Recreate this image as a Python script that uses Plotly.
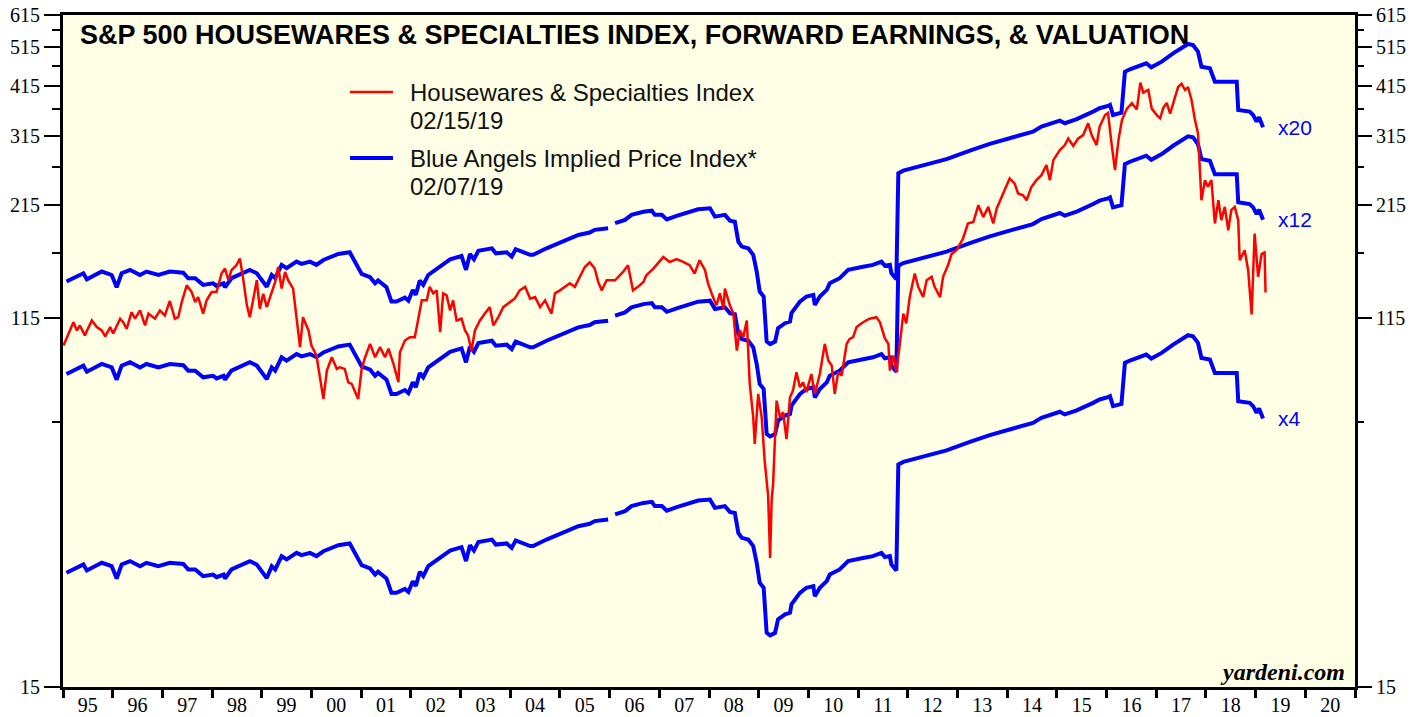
import math
import plotly.graph_objects as go

# ---------------- data ----------------
# Forward earnings (index points); Blue Angels lines = earnings x 20, x 12, x 4
fe_t = [1995.07, 1995.41, 1995.48, 1995.78, 1995.98, 1996.08, 1996.18, 1996.35, 1996.55, 1996.68,
        1996.92, 1997.15, 1997.42, 1997.52, 1997.66, 1997.82, 1998.02, 1998.09, 1998.23, 1998.26,
        1998.39, 1998.76, 1998.90, 1999.10, 1999.20, 1999.27, 1999.40, 1999.50, 1999.70, 1999.80,
        1999.97, 2000.10, 2000.24, 2000.54, 2000.77, 2000.91, 2001.01, 2001.18, 2001.28, 2001.34,
        2001.51, 2001.61, 2001.71, 2001.88, 2001.95, 2002.04, 2002.10, 2002.18, 2002.25, 2002.35,
        2002.59, 2002.79, 2003.02, 2003.11, 2003.19, 2003.27, 2003.36, 2003.63, 2003.71, 2003.93,
        2004.03, 2004.11, 2004.40, 2004.46, 2004.73, 2005.07, 2005.37, 2005.60, 2005.70, 2005.97,
        2006.04, 2006.11, 2006.31, 2006.44, 2006.68, 2006.85, 2006.91, 2007.05, 2007.15, 2007.35,
        2007.55, 2007.78, 2008.02, 2008.12, 2008.32, 2008.42, 2008.52, 2008.59, 2008.66, 2008.79,
        2008.89, 2008.96, 2009.02, 2009.10, 2009.16, 2009.23, 2009.33, 2009.39, 2009.53, 2009.63,
        2009.66, 2009.83, 2009.96, 2010.10, 2010.13, 2010.23, 2010.37, 2010.43, 2010.63, 2010.80,
        2011.10, 2011.30, 2011.47, 2011.54, 2011.64, 2011.67, 2011.77, 2011.81, 2011.91, 2012.38,
        2012.78, 2013.25, 2013.65, 2014.12, 2014.52, 2014.69, 2015.06, 2015.16, 2015.40, 2015.73,
        2015.86, 2016.03, 2016.07, 2016.13, 2016.30, 2016.37, 2016.47, 2016.80, 2016.90, 2017.11,
        2017.34, 2017.64, 2017.74, 2017.84, 2017.91, 2018.08, 2018.18, 2018.62, 2018.65, 2018.88,
        2018.95, 2019.02, 2019.07, 2019.15]
fe_v = [7.05, 7.38, 7.14, 7.45, 7.31, 6.83, 7.38, 7.52, 7.31, 7.45,
        7.31, 7.45, 7.40, 7.18, 7.18, 6.92, 6.98, 6.88, 6.98, 6.83,
        7.18, 7.52, 7.38, 6.85, 7.31, 7.18, 7.73, 7.59, 7.87, 7.77,
        7.87, 7.73, 7.94, 8.21, 8.29, 7.73, 7.35, 7.22, 6.98, 7.09,
        6.83, 6.31, 6.31, 6.45, 6.34, 6.73, 6.55, 7.09, 6.92, 7.31,
        7.69, 7.97, 8.12, 7.52, 8.21, 7.97, 8.36, 8.47, 8.24, 8.29,
        8.09, 8.43, 8.17, 8.17, 8.47, 8.79, 9.12, 9.24, 9.38, 9.46,
        None, 9.73, 9.91, 10.19, 10.37, 10.43, 10.19, 10.19, 9.94, 10.13,
        10.28, 10.51, 10.57, 10.09, 10.19, 9.87, 9.81, 8.79, 8.55, 8.47,
        8.17, 7.45, 6.67, 6.49, 5.06, 4.99, 5.06, 5.45, 5.60, 5.65,
        5.92, 6.31, 6.49, 6.55, 6.19, 6.49, 6.73, 6.98, 7.18, 7.52,
        7.65, 7.73, 7.87, 7.69, 7.73, 7.38, 7.14, 12.82, 13.01, 13.43,
        13.86, 14.53, 15.08, 15.65, 16.14, 16.60, 17.16, 16.91, 17.29, 18.03,
        18.37, 18.60, 18.71, 17.70, 17.92, 22.48, 22.78, 23.55, 23.03, 23.76,
        24.88, 26.20, 26.06, 25.11, 23.11, 22.90, 21.27, 21.27, 18.20, 18.03,
        17.70, 17.06, 17.48, 16.54]

multiples = [20, 12, 4]

# S&P 500 Housewares & Specialties price index
px_t = [1995.01, 1995.21, 1995.28, 1995.34, 1995.44, 1995.58, 1995.68, 1995.78, 1995.85, 1995.95,
        1996.01, 1996.15, 1996.21, 1996.28, 1996.38, 1996.45, 1996.55, 1996.65, 1996.72, 1996.85,
        1996.95, 1997.05, 1997.15, 1997.25, 1997.32, 1997.39, 1997.49, 1997.59, 1997.66, 1997.72,
        1997.82, 1997.89, 1997.99, 1998.09, 1998.19, 1998.26, 1998.33, 1998.39, 1998.49, 1998.56,
        1998.63, 1998.70, 1998.76, 1998.83, 1998.90, 1998.96, 1999.03, 1999.10, 1999.20, 1999.27,
        1999.33, 1999.40, 1999.47, 1999.53, 1999.63, 1999.70, 1999.77, 1999.83, 1999.94, 2000.00,
        2000.10, 2000.17, 2000.24, 2000.31, 2000.41, 2000.51, 2000.57, 2000.67, 2000.74, 2000.81,
        2000.87, 2000.94, 2001.01, 2001.08, 2001.18, 2001.28, 2001.38, 2001.48, 2001.55, 2001.65,
        2001.75, 2001.78, 2001.88, 2001.98, 2002.08, 2002.15, 2002.22, 2002.32, 2002.38, 2002.45,
        2002.52, 2002.59, 2002.65, 2002.72, 2002.79, 2002.85, 2002.92, 2003.02, 2003.09, 2003.15,
        2003.22, 2003.29, 2003.39, 2003.49, 2003.59, 2003.66, 2003.76, 2003.86, 2003.99, 2004.09,
        2004.19, 2004.30, 2004.40, 2004.50, 2004.60, 2004.70, 2004.83, 2004.90, 2005.00, 2005.10,
        2005.20, 2005.30, 2005.40, 2005.50, 2005.60, 2005.70, 2005.77, 2005.84, 2005.94, 2006.11,
        2006.27, 2006.37, 2006.47, 2006.57, 2006.68, 2006.74, 2006.88, 2007.08, 2007.21, 2007.35,
        2007.48, 2007.61, 2007.71, 2007.81, 2007.92, 2007.98, 2008.08, 2008.15, 2008.22, 2008.29,
        2008.32, 2008.42, 2008.49, 2008.56, 2008.62, 2008.69, 2008.76, 2008.82, 2008.89, 2008.92,
        2008.99, 2009.06, 2009.12, 2009.19, 2009.23, 2009.26, 2009.29, 2009.36, 2009.43, 2009.49,
        2009.56, 2009.63, 2009.69, 2009.76, 2009.83, 2009.89, 2009.96, 2010.06, 2010.13, 2010.23,
        2010.33, 2010.40, 2010.47, 2010.53, 2010.60, 2010.67, 2010.77, 2010.83, 2010.90, 2010.97,
        2011.10, 2011.23, 2011.37, 2011.44, 2011.47, 2011.54, 2011.61, 2011.64, 2011.71, 2011.77,
        2011.84, 2011.91, 2011.97, 2012.04, 2012.14, 2012.21, 2012.31, 2012.38, 2012.48, 2012.54,
        2012.65, 2012.71, 2012.81, 2012.88, 2012.98, 2013.11, 2013.21, 2013.32, 2013.42, 2013.52,
        2013.62, 2013.72, 2013.79, 2013.89, 2013.99, 2014.05, 2014.15, 2014.22, 2014.32, 2014.39,
        2014.49, 2014.59, 2014.69, 2014.79, 2014.86, 2014.93, 2015.06, 2015.16, 2015.23, 2015.33,
        2015.43, 2015.53, 2015.63, 2015.70, 2015.80, 2015.86, 2015.97, 2016.03, 2016.10, 2016.17,
        2016.24, 2016.31, 2016.41, 2016.51, 2016.61, 2016.68, 2016.74, 2016.84, 2016.91, 2017.01,
        2017.08, 2017.14, 2017.21, 2017.28, 2017.38, 2017.44, 2017.51, 2017.58, 2017.64, 2017.71,
        2017.78, 2017.84, 2017.91, 2017.98, 2018.04, 2018.11, 2018.18, 2018.25, 2018.31, 2018.38,
        2018.45, 2018.51, 2018.58, 2018.65, 2018.68, 2018.78, 2018.85, 2018.92, 2018.98, 2019.05,
        2019.12, 2019.18, 2019.20]
px_v = [99.0, 112.6, 107.6, 110.6, 104.7, 113.7, 109.6, 107.6, 104.1, 109.6,
        105.8, 114.8, 112.6, 108.6, 119.0, 114.8, 120.2, 110.6, 118.1, 114.8,
        120.2, 116.9, 126.6, 114.8, 115.8, 125.9, 138.1, 133.0, 125.9, 129.4,
        118.1, 127.1, 133.0, 133.0, 147.4, 151.5, 142.0, 150.1, 154.3, 160.1,
        142.0, 123.6, 115.8, 129.4, 142.0, 121.4, 131.8, 122.4, 133.0, 140.7,
        152.8, 135.6, 148.7, 142.0, 135.6, 115.8, 98.1, 115.8, 107.6, 99.0,
        93.7, 83.1, 73.7, 86.2, 92.8, 87.0, 87.8, 87.0, 80.8, 80.1,
        77.2, 73.7, 87.0, 92.8, 99.9, 92.8, 98.1, 92.8, 97.3, 89.4,
        80.8, 95.4, 101.8, 103.7, 103.7, 115.8, 127.1, 127.1, 136.9, 132.1,
        134.3, 106.6, 132.1, 130.6, 120.2, 127.1, 113.7, 114.8, 107.6, 104.7,
        96.3, 107.6, 113.7, 118.1, 122.4, 110.6, 115.8, 122.4, 125.9, 128.3,
        134.3, 136.9, 128.3, 129.4, 122.4, 127.1, 118.1, 132.1, 134.3, 136.9,
        139.6, 136.9, 144.8, 152.8, 156.8, 151.5, 140.7, 134.3, 142.0, 142.0,
        148.7, 154.3, 134.3, 136.9, 140.7, 146.0, 151.5, 161.4, 157.1, 159.6,
        157.1, 154.3, 147.4, 158.6, 150.1, 139.6, 129.4, 123.6, 132.1, 121.4,
        135.6, 123.6, 118.1, 96.3, 107.6, 103.7, 113.7, 80.1, 66.6, 57.5,
        75.8, 66.6, 52.4, 43.1, 30.6, 42.0, 46.1, 73.0, 66.6, 68.5,
        59.0, 74.4, 77.2, 85.4, 78.6, 80.8, 76.5, 84.6, 75.8, 84.6,
        99.9, 91.1, 88.6, 75.8, 85.4, 83.9, 99.9, 102.7, 103.7, 109.6,
        112.6, 114.8, 115.8, 112.6, 109.6, 103.0, 99.9, 86.2, 93.7, 85.4,
        99.9, 118.1, 111.9, 129.4, 147.4, 136.9, 129.4, 142.0, 144.7, 136.9,
        129.4, 144.7, 154.3, 164.1, 167.6, 178.6, 194.3, 195.9, 215.0, 201.4,
        213.0, 194.3, 211.1, 225.1, 237.9, 249.2, 242.4, 229.3, 227.2, 221.0,
        237.9, 246.9, 253.8, 268.3, 246.9, 275.8, 291.5, 299.7, 310.8, 298.1,
        310.8, 316.7, 338.0, 316.7, 299.7, 331.5, 353.8, 358.0, 302.4, 261.0,
        308.1, 344.1, 366.6, 377.7, 364.9, 423.4, 400.3, 406.3, 366.6, 353.8,
        347.5, 368.0, 378.3, 356.8, 391.4, 413.1, 420.7, 406.3, 413.1, 384.4,
        344.1, 320.1, 221.0, 246.9, 238.2, 246.9, 194.3, 221.0, 197.9, 213.0,
        187.2, 209.1, 213.0, 197.9, 158.6, 167.6, 150.1, 117.6, 183.8, 144.8,
        164.1, 165.5, 132.7]

year_labels = ["95", "96", "97", "98", "99", "00", "01", "02", "03", "04", "05", "06", "07",
               "08", "09", "10", "11", "12", "13", "14", "15", "16", "17", "18", "19", "20"]
y_major = [15, 115, 215, 315, 415, 515, 615]
y_minor = [65, 165, 265, 365, 465, 565]

# ---------------- figure ----------------
BLUE = "#0000FF"
RED = "#FF0000"
fig = go.Figure()

for m in multiples:
    fig.add_trace(go.Scatter(
        x=fe_t, y=[None if v is None else v * m for v in fe_v],
        mode="lines", line=dict(color=BLUE, width=4), connectgaps=False,
        hoverinfo="skip", yaxis="y"))

fig.add_trace(go.Scatter(x=px_t, y=px_v, mode="lines",
                         line=dict(color=RED, width=2.5), yaxis="y2", hoverinfo="skip"))

yrange = [math.log10(15), math.log10(615)]
serif = "Liberation Serif, Times New Roman, serif"
sans = "Liberation Sans, Arial, sans-serif"

axis_y_common = dict(
    type="log", range=yrange, tickmode="array", tickvals=y_major,
    ticktext=[str(v) for v in y_major], ticks="outside", ticklen=16, tickwidth=1.5,
    tickcolor="black", showgrid=False, zeroline=False, automargin=False,
    tickfont=dict(family=serif, size=20, color="black"),
    minor=dict(tickmode="array", tickvals=y_minor, ticks="outside", ticklen=8,
               tickwidth=1.5, tickcolor="black", showgrid=False),
)

fig.update_layout(
    width=1427, height=717,
    margin=dict(l=63, r=72, t=15, b=30, autoexpand=False),
    paper_bgcolor="white", plot_bgcolor="#FFFFE5",
    showlegend=False,
    xaxis=dict(
        range=[1995, 2021], tickmode="array",
        tickvals=[1995.5 + i for i in range(len(year_labels))], ticktext=year_labels,
        ticks="", showgrid=False, zeroline=False, automargin=False,
        showline=True, linewidth=3, linecolor="black", mirror=True,
        ticklabelstandoff=-2,
        tickfont=dict(family=serif, size=20, color="black"),
        minor=dict(tickmode="array", tickvals=list(range(1995, 2022)), ticks="outside",
                   ticklen=8, tickwidth=3, tickcolor="black", showgrid=False),
    ),
    yaxis=dict(**axis_y_common, side="left", showline=True, linewidth=3,
               linecolor="black", mirror=True),
    yaxis2=dict(**axis_y_common, side="right", overlaying="y", showline=False),
)

# title
fig.add_annotation(
    text="<b>S&P 500 HOUSEWARES & SPECIALTIES INDEX, FORWARD EARNINGS, & VALUATION</b>",
    xref="paper", yref="paper", x=0.0116, y=0.970, xanchor="left", yanchor="middle",
    showarrow=False, font=dict(family=sans, size=27, color="black"))

# legend
leg_font = dict(family=sans, size=24, color="#111111")
fig.add_shape(type="line", xref="paper", yref="paper", x0=0.2221, x1=0.2554,
              y0=0.8854, y1=0.8854, line=dict(color=RED, width=2.5))
fig.add_shape(type="line", xref="paper", yref="paper", x0=0.2221, x1=0.2554,
              y0=0.7872, y1=0.7872, line=dict(color=BLUE, width=4))
for txt, yy in [("Housewares & Specialties Index", 0.8854), ("02/15/19", 0.84375),
                ("Blue Angels Implied Price Index*", 0.7872), ("02/07/19", 0.7455)]:
    fig.add_annotation(text=txt, xref="paper", yref="paper", x=0.267, y=yy,
                       xanchor="left", yanchor="middle", showarrow=False, font=leg_font)

# multiple labels
last_fe = fe_v[-1]
for m in multiples:
    fig.add_annotation(text="x%d" % m, x=2019.42, y=math.log10(last_fe * m),
                       xref="x", yref="y", xanchor="left", yanchor="middle",
                       showarrow=False, font=dict(family=sans, size=21, color=BLUE))

fig.add_annotation(text="<b><i>yardeni.com</i></b>", xref="paper", yref="paper",
                   x=0.9938, y=0.0223, xanchor="right", yanchor="middle", showarrow=False,
                   font=dict(family=serif, size=24, color="black"))

fig.write_html("out.html", config={"displayModeBar": False},
               post_script="document.body.style.margin='0';document.body.style.overflow='hidden';")
